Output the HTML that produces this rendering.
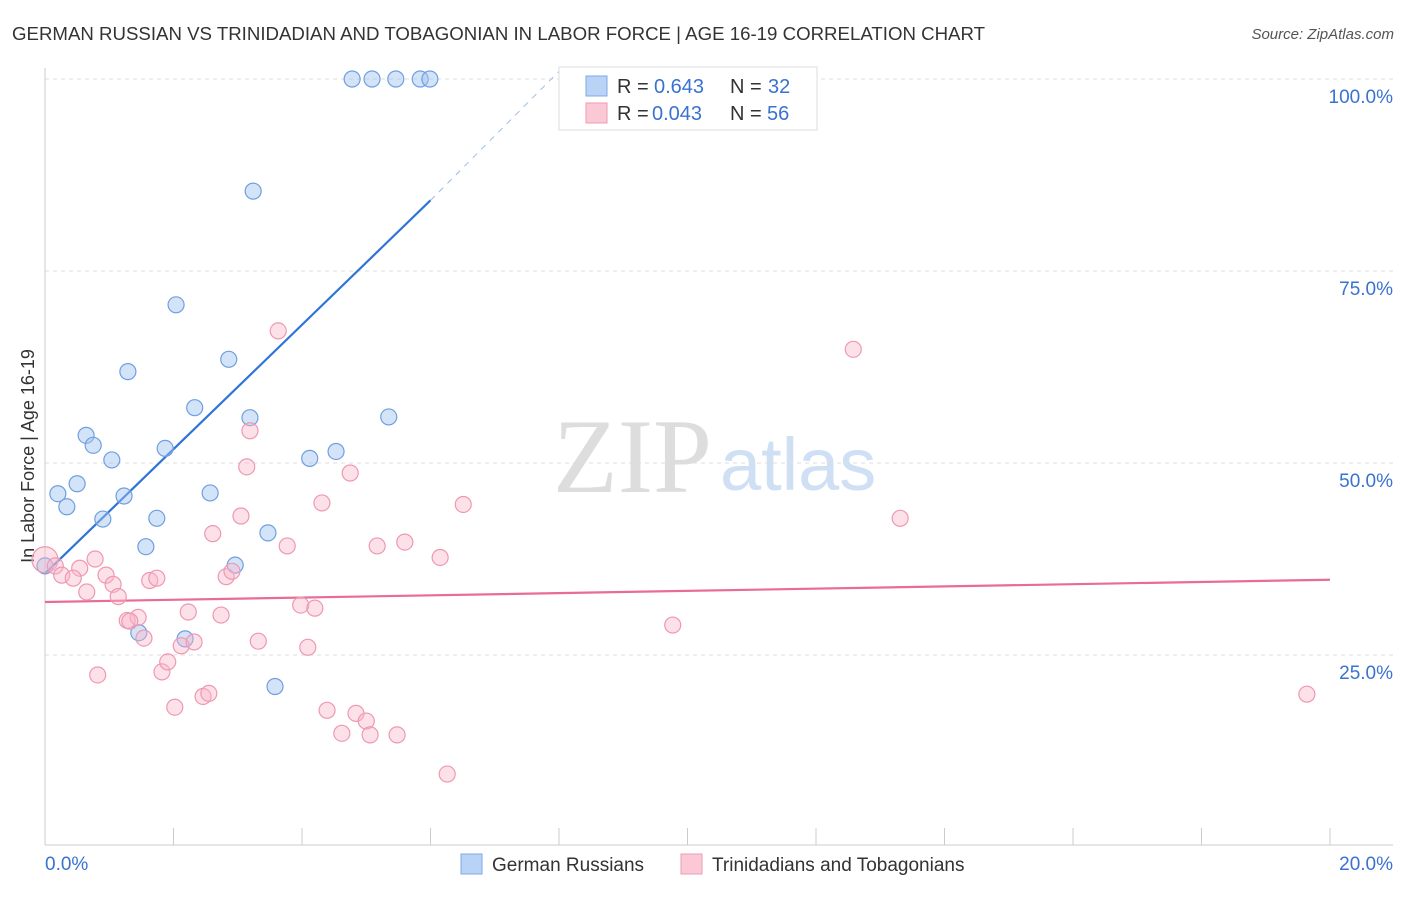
<!DOCTYPE html>
<html><head><meta charset="utf-8"><style>
body{margin:0;background:#fff;font-family:"Liberation Sans",sans-serif;}
svg text{font-family:"Liberation Sans",sans-serif;}
</style></head><body>
<svg id="chart" width="1406" height="892" xmlns="http://www.w3.org/2000/svg">
<text x="12" y="40" font-size="18" fill="#333" textLength="973" lengthAdjust="spacingAndGlyphs">GERMAN RUSSIAN VS TRINIDADIAN AND TOBAGONIAN IN LABOR FORCE | AGE 16-19 CORRELATION CHART</text>
<text x="1394" y="39" font-size="15" fill="#555" font-style="italic" text-anchor="end">Source: ZipAtlas.com</text>
<text x="34" y="456" font-size="18" fill="#333" text-anchor="middle" transform="rotate(-90 34 456)">In Labor Force | Age 16-19</text>
<g><text x="553" y="492" font-size="106" fill="#ddd" style="font-family:'Liberation Serif',serif">ZIP</text><text x="720" y="490" font-size="74" fill="#cfe0f5">atlas</text></g>
<g id="grid"></g><g id="axes"></g><g id="lines"></g><g id="pts"></g>
<g>
<rect x="559" y="67" width="258" height="63" fill="#fff" stroke="#ddd"/>
<rect x="586" y="76" width="21" height="20" fill="#b8d3f5" stroke="#7faae6"/>
<rect x="586" y="103" width="21" height="20" fill="#fbc8d6" stroke="#ef9bb5"/>
<text x="617" y="93" font-size="20" fill="#333">R = </text><text x="654" y="93" font-size="20" fill="#3a72d0">0.643</text>
<text x="730" y="93" font-size="20" fill="#333">N = </text><text x="768" y="93" font-size="20" fill="#3a72d0">32</text>
<text x="617" y="120" font-size="20" fill="#333">R = </text><text x="652" y="120" font-size="20" fill="#3a72d0">0.043</text>
<text x="730" y="120" font-size="20" fill="#333">N = </text><text x="767" y="120" font-size="20" fill="#3a72d0">56</text>
</g>
<g>
<rect x="461" y="854" width="21" height="20" fill="#b8d3f5" stroke="#7faae6"/>
<text x="492" y="871" font-size="19" fill="#333">German Russians</text>
<rect x="681" y="854" width="21" height="20" fill="#fbc8d6" stroke="#ef9bb5"/>
<text x="712" y="871" font-size="19" fill="#333">Trinidadians and Tobagonians</text>
</g>
</svg>
<script>
const xTicks=[0,2,4,6,8,10,12,14,16,18,20];
const yTicks=[25,50,75,100];
const yTickLabels=["25.0%","50.0%","75.0%","100.0%"];
const blueX=[4.78,5.09,5.46,5.84,5.99,3.24,2.04,2.86,1.29,2.33,3.19,5.35,0.64,0.75,1.87,4.53,4.12,1.04,0.50,0.20,2.57,1.23,0.34,0.90,1.74,3.47,1.57,2.96,0.0,1.46,2.18,3.58];
const blueY=[100,100,100,100,100,85.4,70.6,63.5,61.9,57.2,55.9,56.0,53.6,52.3,51.9,51.5,50.6,50.4,47.3,46.0,46.1,45.7,44.3,42.7,42.8,40.9,39.1,36.7,36.6,27.9,27.1,20.9];
const pinkX=[0.0,0.16,0.26,0.54,0.44,0.78,0.65,0.95,1.06,1.14,0.82,1.28,1.45,1.54,1.32,1.63,1.74,1.82,1.91,2.02,2.12,2.23,2.32,2.46,2.55,2.61,2.74,2.82,2.91,3.05,3.14,3.19,3.32,3.63,3.77,3.98,4.09,4.20,4.31,4.39,4.75,4.62,4.84,5.00,5.06,5.17,5.48,5.60,6.15,6.26,6.51,9.77,12.58,13.31,19.64];
const pinkY=[37.4,36.6,35.4,36.3,35.0,37.5,33.2,35.4,34.2,32.6,22.4,29.5,29.9,27.2,29.4,34.7,35.0,22.8,24.1,18.2,26.2,30.6,26.7,19.6,20.0,40.8,30.2,35.2,35.9,43.1,49.5,54.2,26.8,67.2,39.2,31.5,26.0,31.1,44.8,17.8,48.7,14.8,17.4,16.4,14.6,39.2,14.6,39.7,37.7,9.5,44.6,28.9,64.8,42.8,19.9];
const blueLine=[[0,35.6],[6.0,84.2]];
const blueDash=[[6.0,84.2],[8.0,101]];
const pinkLine=[[0,31.9],[20,34.8]];
const NS="http://www.w3.org/2000/svg";
const X=v=>45+v*64.25, Y=v=>847-v*7.68;
function mk(t,a,p){const e=document.createElementNS(NS,t);for(const k in a)e.setAttribute(k,a[k]);p.appendChild(e);return e;}
const grid=document.getElementById('grid'),axes=document.getElementById('axes'),lines=document.getElementById('lines'),pts=document.getElementById('pts');
yTicks.forEach((t,i)=>{const l=mk('line',{x1:45,x2:1393,y1:Y(t),y2:Y(t),stroke:'#ddd','stroke-dasharray':'4 4'},grid);


const tx=mk('text',{x:1393,y:Y(t)+24,'font-size':19,fill:'#3a72d0','text-anchor':'end'},axes);tx.textContent=yTickLabels[i];

});
const ax=mk('line',{x1:45,x2:1393,y1:845,y2:845,stroke:'#ccc'},axes);


const ay=mk('line',{x1:45,x2:45,y1:68,y2:845,stroke:'#ccc'},axes);


xTicks.forEach(t=>{const l=mk('line',{x1:X(t),x2:X(t),y1:828,y2:845,stroke:'#ccc'},axes);

});
const x0=mk('text',{x:45,y:870,'font-size':19,fill:'#3a72d0'},axes);x0.textContent='0.0%';


const x1=mk('text',{x:1393,y:870,'font-size':19,fill:'#3a72d0','text-anchor':'end'},axes);x1.textContent='20.0%';


function ln(d,c,w,dash,name){const e=mk('line',{x1:X(d[0][0]),y1:Y(d[0][1]),x2:X(d[1][0]),y2:Y(d[1][1]),stroke:c,'stroke-width':w},lines);if(dash)e.setAttribute('stroke-dasharray',dash);

}
blueX.forEach((v,i)=>{const c=mk('circle',{cx:X(v),cy:Y(blueY[i]),r:8,fill:'rgba(160,196,240,0.45)',stroke:'#6f9fe0','stroke-width':1.2},pts);

});
pinkX.forEach((v,i)=>{const c=mk('circle',{cx:X(v),cy:Y(pinkY[i]),r:i==0?13:8,fill:'rgba(249,180,200,0.4)',stroke:'#ee98b2','stroke-width':1.2},pts);

});
ln(blueLine,'#2f74d8',2.2,null,'trend-german-russians');
ln(blueDash,'#9bbbe6',1,'6 6','trend-german-russians-extension');
ln(pinkLine,'#e86b98',2.2,null,'trend-trinidadians');
</script>
</body></html>
